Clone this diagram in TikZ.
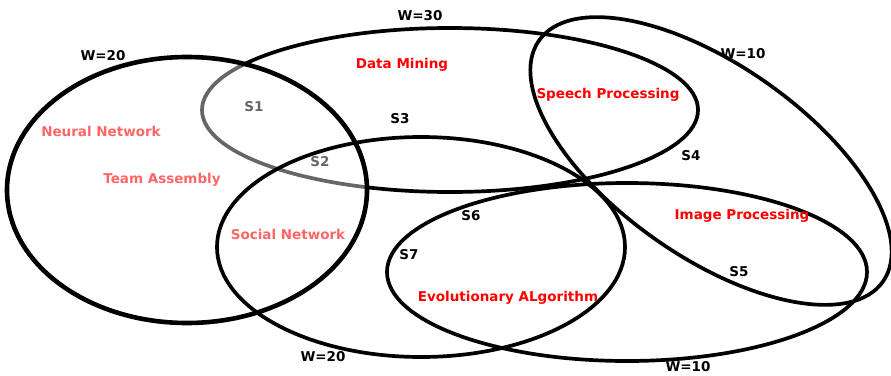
\documentclass[tikz,border=0pt]{standalone}
\usepackage{fontspec}
\setmainfont{DejaVu Sans}
\definecolor{topicred}{HTML}{FF0000}
\begin{document}
\begin{tikzpicture}[x=1pt,y=-1pt,
  ring/.style={line width=3.7pt},
  outerring/.style={line width=4.6pt},
  lbl/.style={font=\fontsize{13.5}{16}\selectfont\bfseries, inner sep=0pt, text height=1.45ex, text depth=0.3ex},
  topic/.style={lbl, text=topicred},
  setlbl/.style={lbl, text=black}]
\useasboundingbox (0,0) rectangle (891,375);

% Data Mining ring (W=30) and the labels lying under the veil of the left ring
\draw[ring] (450,110) ellipse [x radius=248, y radius=82];
\node[setlbl] (s1) at (254,108) {S1};
\node[setlbl] (s2) at (320,163) {S2};
\node[topic] (nn) at (101,133) {Neural Network};
\node[topic] (ta) at (162,180) {Team Assembly};
\node[topic] (sn) at (288,236) {Social Network};

% left ring (W=20) with a translucent white veil
\draw[outerring, fill=white, fill opacity=0.4] (187,190) ellipse [x radius=180, y radius=133];

% Social Network ring (W=20)
\draw[ring] (421,247) ellipse [x radius=204, y radius=110];

% Evolutionary / Image ring (W=10, bottom)
\draw[ring] (627,272) ellipse [x radius=240, y radius=89];

% slanted Speech / Image ring (W=10, top right)
\begin{scope}[rotate around={-35:(711,161)}]
  \draw[ring] (711,161) ellipse [x radius=210, y radius=96];
\end{scope}

% topic labels
\node[topic] (dm) at (402,65) {Data Mining};
\node[topic] (sp) at (608,95) {Speech Processing};
\node[topic] (ip) at (742,216) {Image Processing};
\node[topic] (ea) at (508,298) {Evolutionary ALgorithm};

% set labels
\node[setlbl] (s3) at (400,120) {S3};
\node[setlbl] (s4) at (691,157) {S4};
\node[setlbl] (s5) at (739,273) {S5};
\node[setlbl] (s6) at (471,217) {S6};
\node[setlbl] (s7) at (409,256) {S7};

% weights
\node[setlbl] (w1) at (103,57) {W=20};
\node[setlbl] (w2) at (420,17) {W=30};
\node[setlbl] (w3) at (743,55) {W=10};
\node[setlbl] (w4) at (323,358) {W=20};
\node[setlbl] (w5) at (688,368) {W=10};
\end{tikzpicture}
\end{document}
